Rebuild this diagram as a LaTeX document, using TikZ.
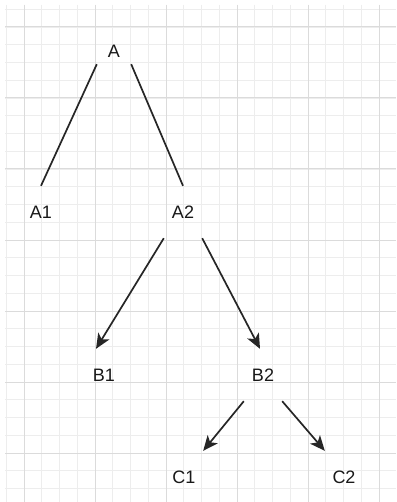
\documentclass[tikz,border=0pt]{standalone}
\usepackage{fontspec}
\setmainfont{Liberation Sans}
\usepackage{tikz}
\usetikzlibrary{arrows.meta}

\begin{document}
\begin{tikzpicture}[
  x=1pt, y=-1pt,
  font=\fontsize{18}{21}\selectfont,
  minorgrid/.style={draw=black!7, line width=0.8pt},
  majorgrid/.style={draw=black!14, line width=1pt},
  lbl/.style={rectangle, inner sep=0pt, minimum width=38pt, minimum height=52pt, text=black!90},
  conn/.style={draw=black!85, line width=1.7pt},
  arr/.style={conn, -{Stealth[length=15pt, width=13pt, inset=4pt]}}
]
\useasboundingbox (0,0) rectangle (396,502);
\fill[white] (0,0) rectangle (396,502);

% ---- grid ----
\foreach \i in {0,...,21} \draw[minorgrid] ({6.25+17.75*\i},5) -- ({6.25+17.75*\i},502);
\foreach \i in {0,...,27} \draw[minorgrid] (5,{9.25+17.75*\i}) -- (396,{9.25+17.75*\i});
\foreach \i in {0,...,5} \draw[majorgrid] ({24+71*\i},5) -- ({24+71*\i},502);
\foreach \i in {0,...,6} \draw[majorgrid] (5,{27+71*\i}) -- (396,{27+71*\i});

% ---- tree ----
\node[lbl, minimum width=34pt, minimum height=26pt] (A) at (114,51) {A};
\node[lbl] (A1) at (41,212) {A1};
\node[lbl] (A2) at (183,212) {A2};
\node[lbl] (B1) at (104,375) {B1};
\node[lbl] (B2) at (263,375) {B2};
\node[lbl] (C1) at (184,477) {C1};
\node[lbl] (C2) at (344,477) {C2};

% edges
\draw[conn] (A.south west) -- (A1.north);
\draw[conn] (A.south east) -- (A2.north);
\draw[arr] (A2.south west) -- ([xshift=-8pt]B1.north);
\draw[arr] (A2.south east) -- ([xshift=-3pt]B2.north);
\draw[arr] (B2.south west) -- (C1.north east);
\draw[arr] (B2.south east) -- (C2.north west);
\end{tikzpicture}
\end{document}
